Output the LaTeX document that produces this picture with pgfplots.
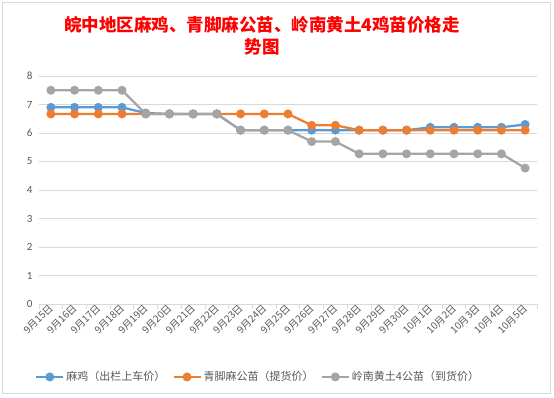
\documentclass[border=0pt]{standalone}
\usepackage{pgfplots}
\pgfplotsset{compat=1.18}
\usepackage{fontspec}
\setmainfont{Carlito}
\newfontfamily\cjk{Noto Sans CJK SC}
\definecolor{sblue}{HTML}{5B9BD5}
\definecolor{sorange}{HTML}{ED7D31}
\definecolor{sgray}{HTML}{A5A5A5}
\definecolor{gridc}{HTML}{D9D9D9}
\definecolor{labc}{HTML}{595959}
\begin{document}
\begin{tikzpicture}[x=1pt,y=1pt]
\path[use as bounding box, fill=white] (0,0) rectangle (554,397);
\draw[gridc, line width=0.8pt] (2.7,4) rectangle (550.7,394.5);
\node[align=center, text=red, font=\cjk\bfseries\fontsize{17.5}{22}\selectfont] at (262,361)
 {皖中地区麻鸡、青脚麻公苗、岭南黄土4鸡苗价格走\\势图};
\begin{axis}[
  at={(39pt,93pt)}, anchor=south west,
  scale only axis, width=498pt, height=228pt,
  xmin=-0.5, xmax=20.5, ymin=0, ymax=8,
  ytick={0,...,8},
  xtick={0,...,20},
  xticklabels={9月15日,9月16日,9月17日,9月18日,9月19日,9月20日,9月21日,9月22日,9月23日,9月24日,9月25日,9月26日,9月27日,9月28日,9月29日,9月30日,10月1日,10月2日,10月3日,10月4日,10月5日},
  minor xtick={-0.5,0.5,...,20.5},
  major tick length=0pt,
  minor tick length=5pt,
  tick align=outside,
  minor tick style={gridc, line width=0.8pt},
  axis lines*=left,
  y axis line style={draw=none},
  x axis line style={gridc, line width=0.8pt},
  ymajorgrids,
  grid style={gridc, line width=0.8pt},
  /pgf/number format/assume math mode=true,
  yticklabel style={font=\fontsize{11}{13}\selectfont, text=labc, xshift=-3pt},
  xticklabel style={font=\cjk\fontsize{10}{12}\selectfont, text=labc, rotate=45, anchor=east, yshift=-2pt, xshift=2pt},
  legend columns=3,
  legend style={at={(0.44,-0.32)}, anchor=center, draw=none, fill=none,
    font=\cjk\fontsize{11}{13}\selectfont, text=labc,
    /tikz/every even column/.append style={column sep=5pt}},
  legend image code/.code={\draw[mark repeat=2,mark phase=2] plot coordinates {(0pt,0pt) (13.5pt,0pt) (27pt,0pt)};},
  every axis plot/.append style={line width=2.25pt, mark=*, mark size=3.3pt, mark options={solid}},
]
\addplot[sblue, mark options={fill=sblue, draw=sblue}] coordinates {
(0,6.9)(1,6.9)(2,6.9)(3,6.9)(4,6.7)(5,6.67)(6,6.67)(7,6.67)(8,6.1)(9,6.1)(10,6.1)
(11,6.1)(12,6.1)(13,6.1)(14,6.1)(15,6.1)(16,6.2)(17,6.2)(18,6.2)(19,6.2)(20,6.3)};
\addlegendentry{麻鸡（出栏上车价）}
\addplot[sorange, mark options={fill=sorange, draw=sorange}] coordinates {
(0,6.67)(1,6.67)(2,6.67)(3,6.67)(4,6.67)(5,6.67)(6,6.67)(7,6.67)(8,6.67)(9,6.67)(10,6.67)
(11,6.27)(12,6.27)(13,6.1)(14,6.1)(15,6.1)(16,6.1)(17,6.1)(18,6.1)(19,6.1)(20,6.1)};
\addlegendentry{青脚麻公苗（提货价）}
\addplot[sgray, mark options={fill=sgray, draw=sgray}] coordinates {
(0,7.5)(1,7.5)(2,7.5)(3,7.5)(4,6.67)(5,6.67)(6,6.67)(7,6.67)(8,6.1)(9,6.1)(10,6.1)
(11,5.7)(12,5.7)(13,5.27)(14,5.27)(15,5.27)(16,5.27)(17,5.27)(18,5.27)(19,5.27)(20,4.77)};
\addlegendentry{岭南黄土4公苗（到货价）}
\end{axis}
\end{tikzpicture}
\end{document}
